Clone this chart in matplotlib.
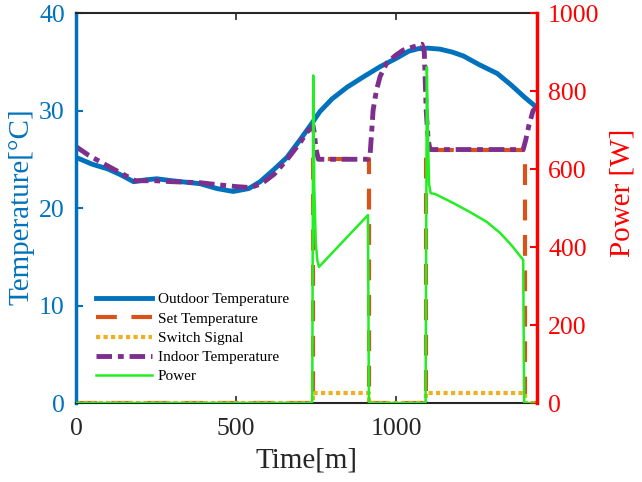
import matplotlib.pyplot as plt

plt.rcParams['font.family'] = ['Liberation Serif', 'DejaVu Serif']

# outdoor temperature [°C] vs time [min]
t_out = [0, 50, 100, 140, 180, 220, 252, 300, 387, 440, 491, 540, 575, 620, 659,
         700, 737, 762, 800, 847, 900, 950, 1003, 1040, 1070, 1100, 1137, 1175,
         1210, 1260, 1316, 1360, 1400, 1440]
temp_out = [25.2, 24.5, 24.0, 23.4, 22.7, 22.9, 23.0, 22.8, 22.5, 22.0, 21.7, 22.0,
            22.7, 24.0, 25.2, 27.0, 28.7, 29.9, 31.2, 32.4, 33.5, 34.5, 35.4, 36.1,
            36.35, 36.4, 36.3, 36.0, 35.6, 34.7, 33.8, 32.6, 31.4, 30.3]

# indoor temperature [°C]
t_in = [0, 40, 100, 185, 250, 300, 387, 440, 500, 545, 580, 620, 660, 700, 722,
        741, 745, 750, 757, 912, 919, 924, 928, 938, 950, 971, 1000, 1022, 1050,
        1081, 1088, 1094, 1100, 1106, 1397, 1405, 1415, 1428, 1440]
temp_in = [26.3, 25.4, 24.3, 22.8, 22.8, 22.7, 22.6, 22.4, 22.2, 22.1, 22.5, 23.5,
           25.0, 26.7, 27.8, 28.4, 27.5, 26.0, 25.0, 25.0, 25.6, 28.0, 30.0, 32.0,
           33.5, 34.9, 35.7, 36.2, 36.5, 36.8, 36.0, 30.0, 27.0, 26.0, 26.0, 27.0,
           28.5, 30.0, 30.4]

# set temperature [°C] and switch signal (on/off)
t_set = [0, 740, 740, 915, 915, 1093, 1093, 1402, 1402, 1440]
temp_set = [0, 0, 25, 25, 0, 0, 26, 26, 0, 0]
switch = [0, 0, 1, 1, 0, 0, 1, 1, 0, 0]

# power [W]
t_pow = [0, 738, 741, 744, 749, 754, 759, 912, 915, 1092, 1096, 1099, 1103, 1108,
         1122, 1178, 1230, 1284, 1325, 1360, 1397, 1400, 1440]
power = [0, 0, 840, 560, 410, 365, 349, 482, 0, 0, 862, 700, 560, 538,
         536, 513, 490, 464, 436, 405, 367, 0, 0]

blue = '#0072BD'
orange = '#D95319'
yellow = '#EDB120'
purple = '#7E2F8E'
green = '#22EE22'
red = '#FF0000'
dark = '#262626'

fig = plt.figure(figsize=(6.42, 4.82), dpi=100)
ax = fig.add_axes([0.1184, 0.1639, 0.718, 0.809])
ax2 = ax.twinx()

l1, = ax.plot(t_out, temp_out, color=blue, lw=3.5, label='Outdoor Temperature')
l2, = ax.plot(t_set, temp_set, color=orange, lw=3, dashes=(5, 3.5), label='Set Temperature')
l3, = ax.plot(t_set, switch, color=yellow, lw=3, dashes=(1, 0.8), label='Switch Signal')
l4, = ax.plot(t_in, temp_in, color=purple, lw=3.5, dashes=(3.2, 1.2, 1.2, 1.2),
              label='Indoor Temperature')
l5, = ax2.plot(t_pow, power, color=green, lw=1.8, label='Power')

ax.set_xlim(0, 1440)
ax.set_ylim(0, 40)
ax2.set_ylim(0, 1000)
ax.set_xticks([0, 500, 1000])
ax.set_yticks([0, 10, 20, 30, 40])
ax2.set_yticks([0, 200, 400, 600, 800, 1000])

ax.tick_params(axis='x', direction='in', top=True, length=5, width=1.2, colors=dark,
               labelsize=18.5, pad=11)
ax.tick_params(axis='y', direction='in', length=5, width=1.5, colors=blue,
               labelsize=18.5, pad=8)
ax2.tick_params(axis='y', direction='in', length=5, width=1.5, colors=red,
                labelsize=18.5, pad=8)

for s in ['top', 'bottom']:
    ax.spines[s].set_color(dark)
    ax.spines[s].set_linewidth(1.5)
    ax2.spines[s].set_visible(False)
ax.spines['left'].set_color(blue)
ax.spines['left'].set_linewidth(2.5)
ax.spines['right'].set_visible(False)
ax2.spines['left'].set_visible(False)
ax2.spines['right'].set_color(red)
ax2.spines['right'].set_linewidth(2.5)

ax.set_xlabel('Time[m]', fontsize=21, color=dark)
ax.set_ylabel('Temperature[°C]', fontsize=21, color=blue)
ax2.set_ylabel('Power [W]', fontsize=21, color=red, rotation=90)
ax.xaxis.set_label_coords(0.5, -0.115)
ax.yaxis.set_label_coords(-0.09, 0.503)
ax2.yaxis.set_label_coords(1.158, 0.538)

ax2.legend(handles=[l1, l2, l3, l4, l5], frameon=False, loc='lower left',
           bbox_to_anchor=(0.03, 0.035), fontsize=11, handlelength=3.7,
           handletextpad=0.35, labelspacing=0.36, borderaxespad=0)

fig.savefig('out.png', dpi=100)
